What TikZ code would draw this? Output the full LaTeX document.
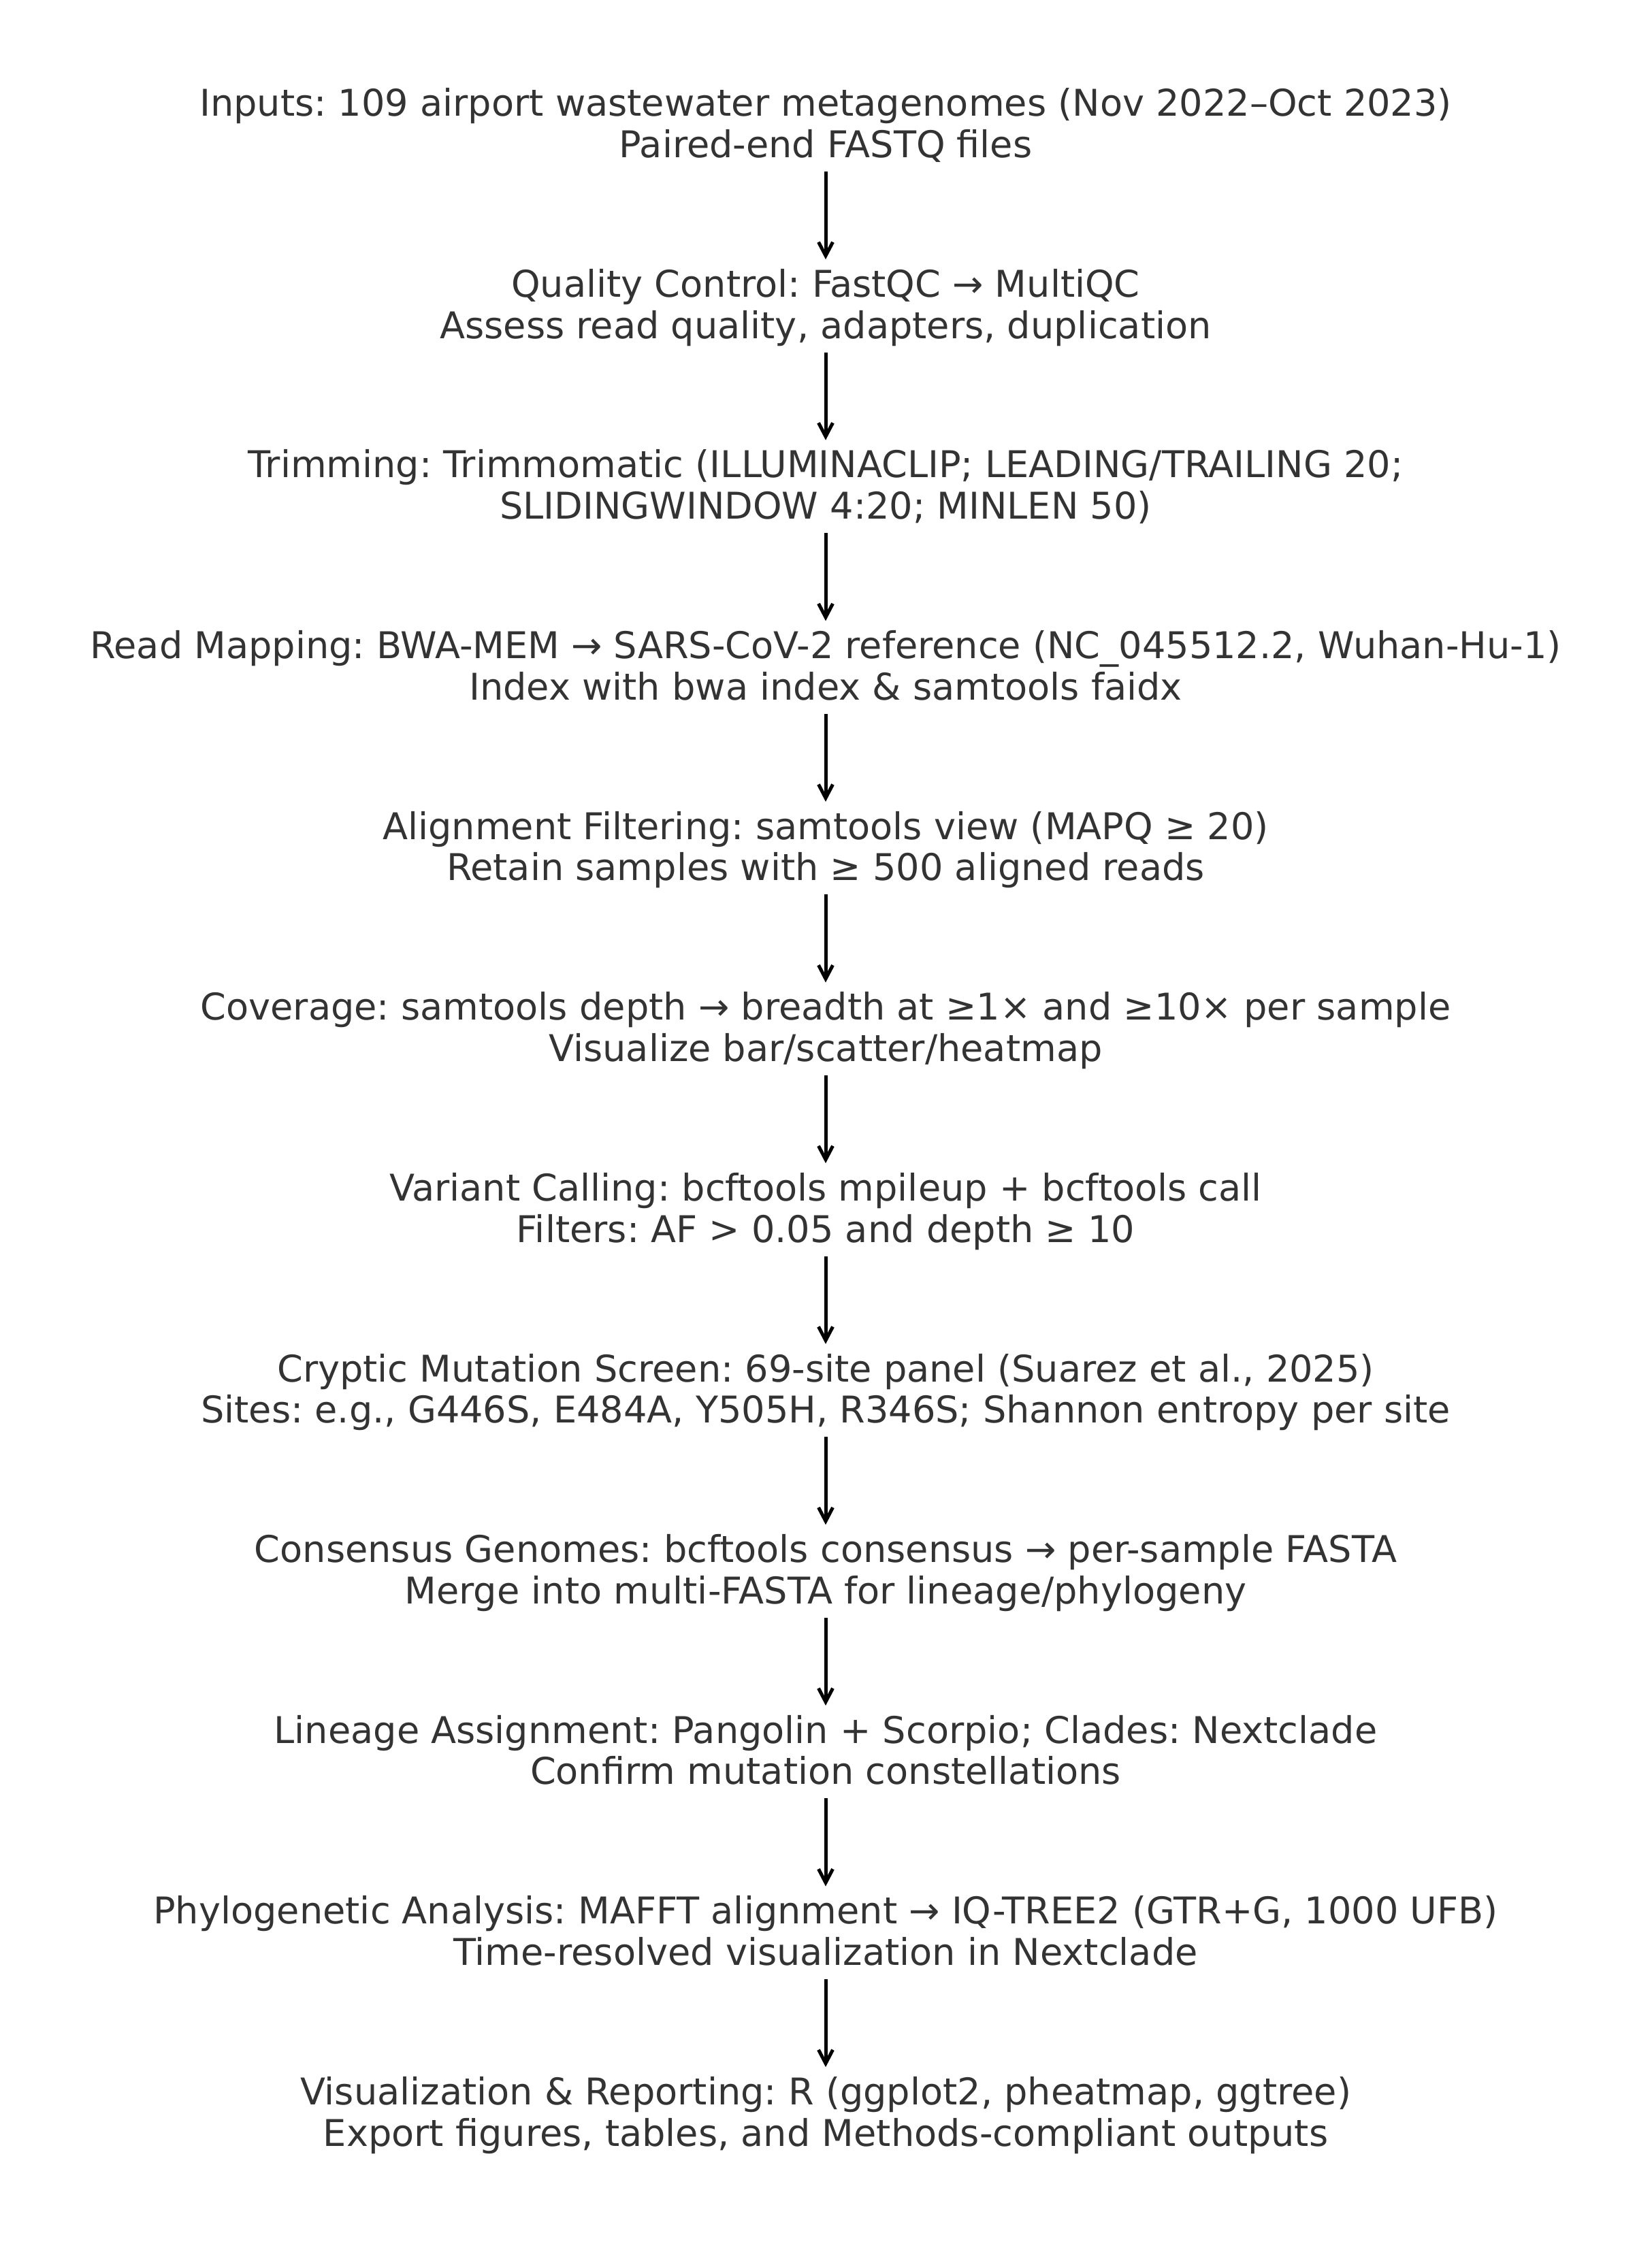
\documentclass[tikz,border=0pt]{standalone}
\usepackage{fontspec}
\setmainfont{DejaVu Sans}
\usetikzlibrary{arrows.meta}
\definecolor{txt}{HTML}{333333}
\newcommand\lstrut{\rule[-0.25em]{0pt}{1.05em}}
\frenchspacing
\tikzset{
  stepbox/.style={anchor=north, inner sep=0pt, outer sep=0pt, align=center, text=txt,
    font=\fontsize{15.4pt}{17.27pt}\selectfont\frenchspacing},
  flowarrow/.style={draw=black, line width=0.5mm, -{Straight Barb[length=2mm,width=2.1mm]},
    shorten <=0.7mm, shorten >=1.2mm}
}
\begin{document}
\begin{tikzpicture}[x=1mm,y=1mm]
\fill[white] (0,0) rectangle (242.6,-332.5);
\useasboundingbox (0,0) rectangle (242.6,-332.5);
\node[stepbox] (b0) at (121.3,-12.75) {\lstrut Inputs: 109 airport wastewater metagenomes (Nov 2022–Oct 2023)\\\lstrut Paired-end FASTQ files};
\node[stepbox] (b1) at (121.3,-39.31) {\lstrut Quality Control: FastQC → MultiQC\\\lstrut Assess read quality, adapters, duplication};
\node[stepbox] (b2) at (121.3,-65.87) {\lstrut Trimming: Trimmomatic (ILLUMINACLIP; LEADING/TRAILING 20;\\\lstrut SLIDINGWINDOW 4:20; MINLEN 50)};
\node[stepbox] (b3) at (121.3,-92.43) {\lstrut Read Mapping: BWA-MEM → SARS-CoV-2 reference (NC\_045512.2, Wuhan-Hu-1)\\\lstrut Index with bwa index \& samtools faidx};
\node[stepbox] (b4) at (121.3,-118.99) {\lstrut Alignment Filtering: samtools view (MAPQ ≥ 20)\\\lstrut Retain samples with ≥ 500 aligned reads};
\node[stepbox] (b5) at (121.3,-145.55) {\lstrut Coverage: samtools depth → breadth at ≥1× and ≥10× per sample\\\lstrut Visualize bar/scatter/heatmap};
\node[stepbox] (b6) at (121.3,-172.11) {\lstrut Variant Calling: bcftools mpileup + bcftools call\\\lstrut Filters: AF > 0.05 and depth ≥ 10};
\node[stepbox] (b7) at (121.3,-198.67) {\lstrut Cryptic Mutation Screen: 69-site panel (Suarez et al., 2025)\\\lstrut Sites: e.g., G446S, E484A, Y505H, R346S; Shannon entropy per site};
\node[stepbox] (b8) at (121.3,-225.23) {\lstrut Consensus Genomes: bcftools consensus → per-sample FASTA\\\lstrut Merge into multi-FASTA for lineage/phylogeny};
\node[stepbox] (b9) at (121.3,-251.79) {\lstrut Lineage Assignment: Pangolin + Scorpio; Clades: Nextclade\\\lstrut Confirm mutation constellations};
\node[stepbox] (b10) at (121.3,-278.35) {\lstrut Phylogenetic Analysis: MAFFT alignment → IQ-TREE2 (GTR+G, 1000 UFB)\\\lstrut Time-resolved visualization in Nextclade};
\node[stepbox] (b11) at (121.3,-304.91) {\lstrut Visualization \& Reporting: R (ggplot2, pheatmap, ggtree)\\\lstrut Export figures, tables, and Methods-compliant outputs};
\foreach \a/\b in {b0/b1,b1/b2,b2/b3,b3/b4,b4/b5,b5/b6,b6/b7,b7/b8,b8/b9,b9/b10,b10/b11}
  \draw[flowarrow] (\a.south) -- (\b.north);
\end{tikzpicture}
\end{document}
